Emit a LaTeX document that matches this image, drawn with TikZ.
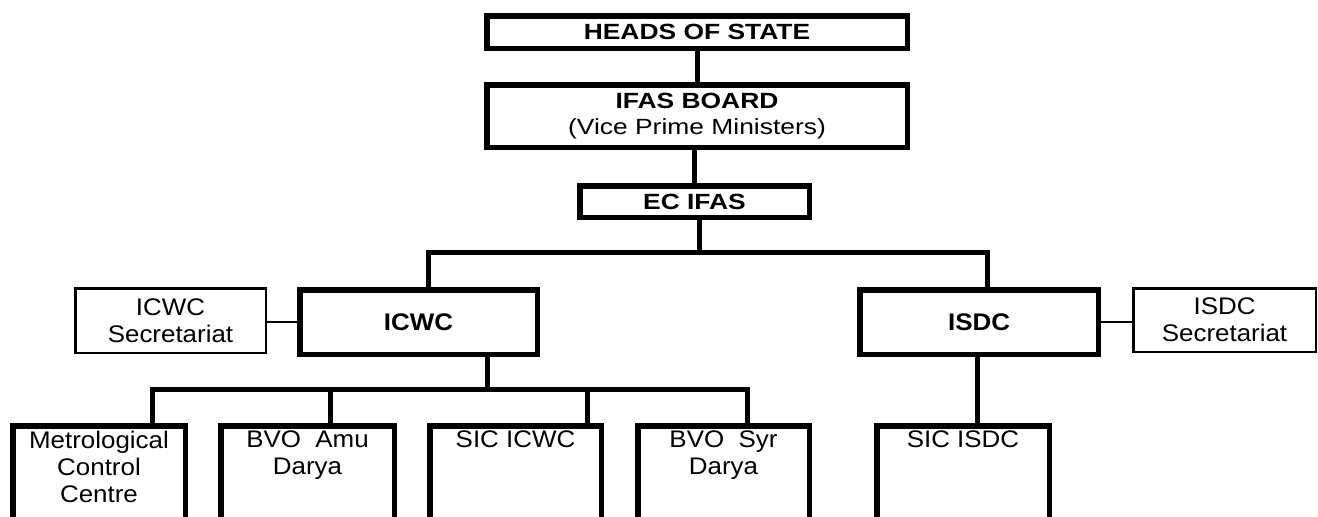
\documentclass[tikz,border=0pt]{standalone}
\usepackage{fontspec}
\setmainfont{Liberation Sans}[FakeStretch=1.2]
\newfontfamily\lowfont{Liberation Sans}[FakeStretch=1.08]
\usepackage{tikz}
\usetikzlibrary{
  positioning,
  calc
}
\newcommand{\orgsize}{\fontsize{22pt}{26.5pt}\selectfont}
\newcommand{\lowsize}{\lowfont\fontsize{24pt}{27pt}\selectfont}

\begin{document}
\begin{tikzpicture}[
  x=1pt, y=-1pt,
  orgbox/.style={draw, line width=5.5pt, inner sep=0pt,
                 font=\orgsize, align=center},
  topbox/.style={orgbox, font=\orgsize\bfseries},
  midbox/.style={orgbox, font=\lowsize\bfseries},
  secbox/.style={orgbox, line width=2.5pt, font=\lowsize},
  leaf/.style={orgbox, minimum height=130pt},
  leaftxt/.style={font=\lowsize, align=center, inner sep=0pt},
  conn/.style={line width=5pt},
  thin/.style={line width=2.5pt},
]
  \useasboundingbox (0,0) rectangle (1318,517);
  \clip (0,0) rectangle (1318,517);

  % Top of the chain
  \node[topbox, minimum width=420.5pt, minimum height=32.5pt] (heads) at (697, 32)
    {HEADS OF STATE};
  \node[orgbox, minimum width=420.5pt, minimum height=62.5pt] (board) at (697, 116)
    {\textbf{IFAS BOARD}\\(Vice Prime Ministers)};
  \node[topbox, minimum width=229.5pt, minimum height=31.5pt] (ecifas) at (694.5, 201.5)
    {EC IFAS};

  % Commissions and their secretariats
  \node[midbox, minimum width=237.5pt, minimum height=64.5pt] (icwc) at (418.5, 322)
    {ICWC};
  \node[midbox, minimum width=238.5pt, minimum height=64.5pt] (isdc) at (979, 322)
    {ISDC};
  \node[secbox, minimum width=190.5pt, minimum height=64.5pt] (icwcsec) at (170.5, 320.5)
    {ICWC\\Secretariat};
  \node[secbox, minimum width=182.5pt, minimum height=63.5pt] (isdcsec) at (1224.5, 320)
    {ISDC\\Secretariat};

  % Bottom row (boxes run off the page)
  \node[leaf, minimum width=172.5pt] (mcc) at (99, 490.75) {};
  \node[leaf, minimum width=173.5pt] (amu) at (307.5, 490.75) {};
  \node[leaf, minimum width=171.5pt] (sicicwc) at (515.5, 490.75) {};
  \node[leaf, minimum width=171.5pt] (syr) at (723.5, 490.75) {};
  \node[leaf, minimum width=172.5pt] (sicisdc) at (963, 490.75) {};

  \node[leaftxt, below=7.5pt of mcc.north] (mcct) {Metrological\\Control\\Centre};
  \node[leaftxt, below=7.5pt of amu.north] (amut) {BVO\ \ Amu\\Darya};
  \node[leaftxt, below=7.5pt of sicicwc.north] (sicicwct) {SIC ICWC};
  \node[leaftxt, below=7.5pt of syr.north] (syrt) {BVO\ \ Syr\\Darya};
  \node[leaftxt, below=7.5pt of sicisdc.north] (sicisdct) {SIC ISDC};

  % Buses
  \coordinate (topbus) at (697, 252);
  \coordinate (botbus) at (487, 389);

  % Connectors
  \draw[conn] (heads.south) -- (board.north);
  \draw[conn] (ecifas.north) -- (ecifas.north |- board.south);
  \draw[conn] ([xshift=4.5pt]ecifas.south) -- ([xshift=4.5pt]ecifas.south |- topbus);
  \draw[conn] ([xshift=9.5pt]icwc.north) |- ([xshift=8pt]isdc.north |- topbus)
    -- ([xshift=8pt]isdc.north);

  \draw[conn] ([xshift=68.5pt]icwc.south) -- ([xshift=68.5pt]icwc.south |- botbus);
  \draw[conn] ([xshift=53pt]mcc.north) |- ([xshift=23.5pt]syr.north |- botbus)
    -- ([xshift=23.5pt]syr.north);
  \draw[conn] ([xshift=22.5pt]amu.north) -- ([xshift=22.5pt]amu.north |- botbus);
  \draw[conn] ([xshift=71.5pt]sicicwc.north) -- ([xshift=71.5pt]sicicwc.north |- botbus);
  \draw[conn] ([xshift=-2pt]isdc.south) -- ([xshift=-2pt]isdc.south |- sicisdc.north);

  \draw[thin] (icwcsec.east |- icwc.west) -- (icwc.west);
  \draw[thin] (isdc.east) -- (isdc.east -| isdcsec.west);

\end{tikzpicture}
\end{document}
